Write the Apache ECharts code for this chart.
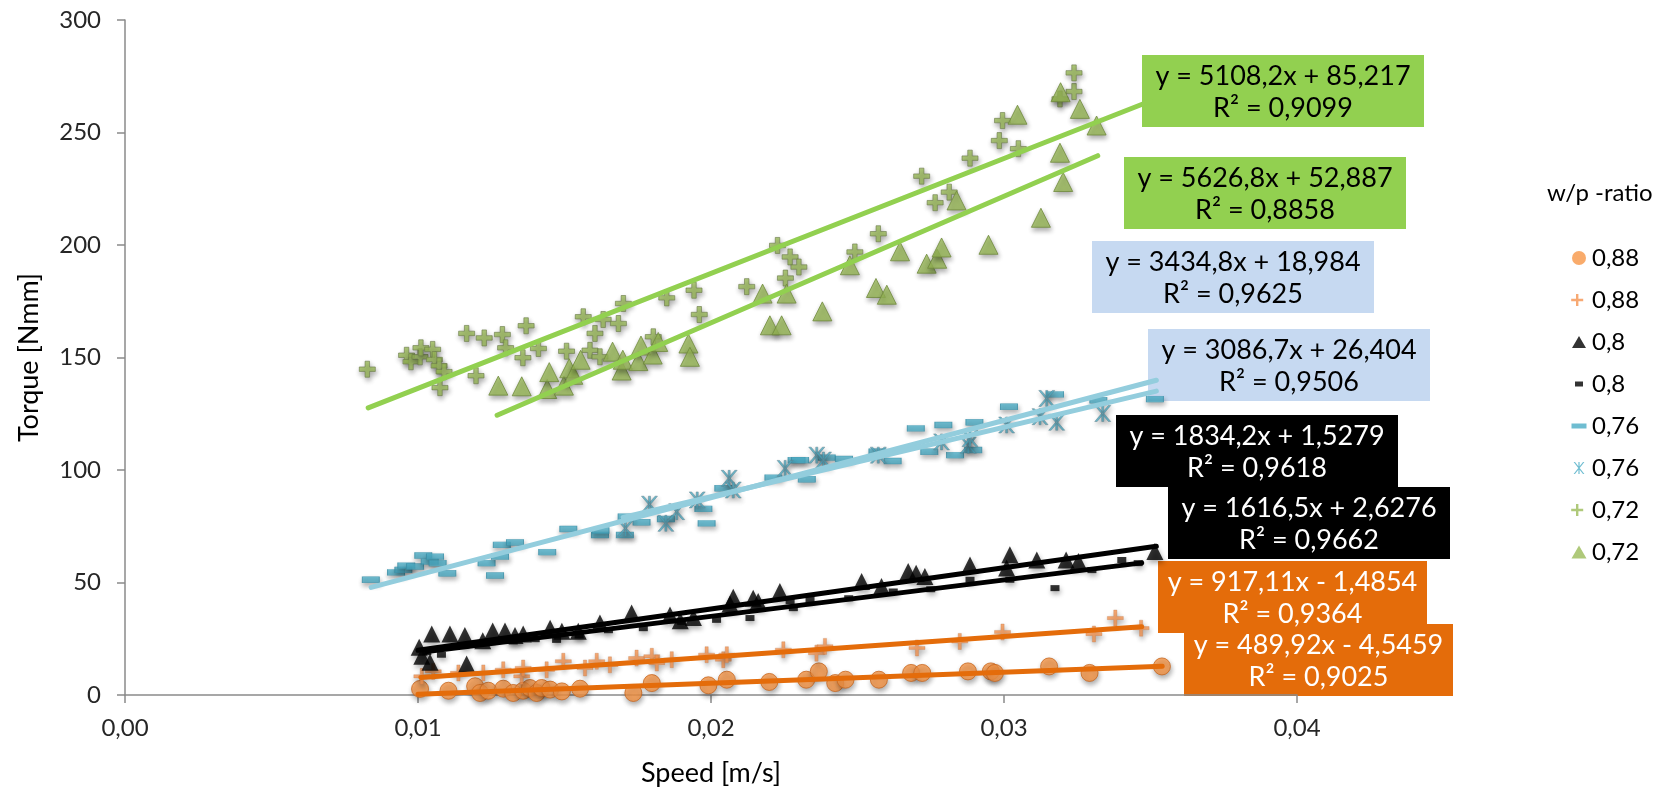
<!DOCTYPE html>
<html>
<head>
<meta charset="utf-8">
<title>Torque vs speed</title>
<script src="https://cdn.jsdelivr.net/npm/echarts@6/dist/echarts.min.js"></script>
<style>
  html, body { margin: 0; padding: 0; background: #ffffff; }
  #chart { width: 1667px; height: 792px; }
</style>
</head>
<body>
<div id="chart"></div>
<script>
// Measured torque [Nmm] against speed [m/s], one array per w/p ratio and marker type
const circle088 = [[0.01007,2.7],[0.01104,1.9],[0.01195,3.9],[0.01212,0.9],[0.01240,1.9],[0.01291,2.8],[0.01325,0.9],[0.01359,1.9],[0.01382,3.1],[0.01405,0.9],[0.01422,3.1],[0.01451,2.4],[0.01491,1.6],[0.01553,2.8],[0.01735,0.9],[0.01798,5.3],[0.01991,4.3],[0.02054,6.8],[0.02199,5.8],[0.02325,6.8],[0.02368,10.5],[0.02424,5.3],[0.02459,6.8],[0.02573,6.8],[0.02683,9.8],[0.02721,9.8],[0.02877,10.5],[0.02955,10.5],[0.02969,9.8],[0.03154,12.7],[0.03292,9.8],[0.03539,12.7]];
const plus088 = [[0.01013,8.3],[0.01052,10.5],[0.01138,9.8],[0.01223,9.8],[0.01291,11.2],[0.01354,8.3],[0.01359,12.0],[0.01439,11.2],[0.01496,15.0],[0.01570,12.0],[0.01610,15.0],[0.01655,13.4],[0.01746,16.4],[0.01798,17.2],[0.01815,14.2],[0.01866,15.7],[0.01985,17.9],[0.02042,15.7],[0.02054,17.9],[0.02247,20.1],[0.02360,18.6],[0.02389,21.6],[0.02703,20.9],[0.02849,23.8],[0.02995,28.0],[0.03307,27.1],[0.03380,34.2],[0.03468,29.7]];
const triangle080 = [[0.01004,21.2],[0.01013,17.2],[0.01041,14.6],[0.01047,27.1],[0.01109,27.1],[0.01160,26.5],[0.01166,13.8],[0.01221,24.1],[0.01255,28.5],[0.01297,28.5],[0.01331,26.5],[0.01359,27.1],[0.01451,29.7],[0.01491,28.3],[0.01547,28.3],[0.01621,32.0],[0.01729,36.4],[0.01860,35.6],[0.01895,33.0],[0.01940,34.5],[0.02065,40.5],[0.02076,43.4],[0.02144,43.0],[0.02161,41.6],[0.02235,46.0],[0.02514,50.4],[0.02582,48.2],[0.02673,54.9],[0.02700,54.1],[0.02730,52.7],[0.02884,57.8],[0.03009,56.4],[0.03020,62.3],[0.03112,60.0],[0.03212,60.0],[0.03254,59.3],[0.03515,63.8]];
const dash080 = [[0.01030,19.1],[0.01080,17.9],[0.01160,22.0],[0.01250,23.5],[0.01325,23.8],[0.01400,24.8],[0.01473,24.5],[0.01550,26.5],[0.01650,28.8],[0.01769,29.7],[0.01900,32.5],[0.02019,33.4],[0.02133,34.2],[0.02270,41.7],[0.02281,38.6],[0.02338,42.3],[0.02470,43.0],[0.02622,46.0],[0.02750,47.0],[0.02884,51.2],[0.03020,51.2],[0.03174,47.5],[0.03300,55.5],[0.03402,60.0],[0.03458,58.6]];
const dash076 = [[0.00839,51.2],[0.00925,54.5],[0.00950,55.6],[0.00960,57.5],[0.00990,57.1],[0.01018,62.0],[0.01040,59.3],[0.01058,61.5],[0.01067,58.6],[0.01100,54.1],[0.01234,58.6],[0.01263,53.1],[0.01280,61.5],[0.01286,66.7],[0.01331,67.8],[0.01441,63.5],[0.01513,73.8],[0.01621,71.1],[0.01623,73.1],[0.01706,71.1],[0.01712,79.3],[0.01763,76.8],[0.01846,78.2],[0.01974,82.7],[0.01985,76.3],[0.02042,91.9],[0.02213,96.6],[0.02292,104.4],[0.02304,104.4],[0.02327,95.9],[0.02395,105.5],[0.02454,104.9],[0.02568,108.1],[0.02620,104.0],[0.02699,118.5],[0.02745,108.1],[0.02793,120.0],[0.02833,106.6],[0.02895,108.9],[0.02899,121.2],[0.03017,128.1],[0.03174,133.6],[0.03322,131.0],[0.03515,131.5]];
const star076 = [[0.01708,74.1],[0.01790,84.8],[0.01846,76.3],[0.01883,81.5],[0.01953,86.7],[0.02062,96.3],[0.02076,91.1],[0.02253,100.7],[0.02361,106.6],[0.02384,104.4],[0.02571,106.6],[0.02787,112.5],[0.02878,111.0],[0.02884,114.0],[0.03009,120.0],[0.03123,123.7],[0.03146,131.8],[0.03180,121.2],[0.03337,125.1]];
const plus072 = [[0.00827,144.8],[0.00961,151.0],[0.00976,148.1],[0.01007,150.3],[0.01010,154.3],[0.01050,153.6],[0.01056,149.1],[0.01072,146.3],[0.01075,136.6],[0.01089,143.7],[0.01166,160.7],[0.01198,141.9],[0.01226,158.7],[0.01288,160.2],[0.01299,154.3],[0.01358,149.9],[0.01369,164.1],[0.01411,154.0],[0.01507,152.8],[0.01564,168.1],[0.01587,153.2],[0.01604,160.7],[0.01621,150.3],[0.01632,166.9],[0.01684,165.1],[0.01701,174.0],[0.01803,159.2],[0.01849,176.5],[0.01942,179.9],[0.01960,169.1],[0.02122,181.5],[0.02227,199.8],[0.02254,185.3],[0.02270,194.7],[0.02300,190.2],[0.02491,196.9],[0.02571,205.0],[0.02719,230.6],[0.02765,218.8],[0.02813,223.5],[0.02884,238.6],[0.02984,246.4],[0.02995,255.3],[0.03049,242.8],[0.03191,264.9],[0.03239,268.2],[0.03239,276.5]];
const triangle072 = [[0.01274,137.5],[0.01354,137.2],[0.01441,136.0],[0.01448,143.5],[0.01498,137.5],[0.01516,145.2],[0.01530,142.3],[0.01555,149.0],[0.01664,152.6],[0.01695,144.2],[0.01699,149.0],[0.01752,148.4],[0.01761,155.3],[0.01801,151.3],[0.01820,156.9],[0.01923,156.2],[0.01928,150.3],[0.02176,178.4],[0.02201,164.3],[0.02241,164.3],[0.02258,178.4],[0.02380,170.5],[0.02474,191.0],[0.02563,180.9],[0.02600,177.9],[0.02645,197.2],[0.02736,191.7],[0.02772,193.9],[0.02787,198.9],[0.02838,219.8],[0.02947,200.1],[0.03046,257.9],[0.03126,212.1],[0.03191,241.0],[0.03193,267.9],[0.03202,228.0],[0.03259,260.5],[0.03316,253.1]];

// Legend entries (w/p ratio), one per data set above
const ratioLabels = ['0,88', '0,88', '0,8', '0,8', '0,76', '0,76', '0,72', '0,72'];

// Linear trendlines y = slope * x + intercept, their R² and the speed range they span
const slopes     = [489.92, 917.11, 1834.2, 1616.5, 3434.8, 3086.7, 5108.2, 5626.8];
const intercepts = [-4.5459, -1.4854, 1.5279, 2.6276, 18.984, 26.404, 85.217, 52.887];
const rSquared   = [0.9025, 0.9364, 0.9618, 0.9662, 0.9625, 0.9506, 0.9099, 0.8858];
const trendFrom  = [0.0100, 0.0101, 0.0100, 0.0103, 0.0084, 0.0170, 0.0083, 0.0127];
const trendTo    = [0.0354, 0.0347, 0.0352, 0.0347, 0.0352, 0.0352, 0.0350, 0.0332];

const xTicks = [0, 0.01, 0.02, 0.03, 0.04];
const yTicks = [0, 50, 100, 150, 200, 250, 300];

const FONT = 'Lato, "Open Sans", sans-serif';
const dataSets = [circle088, plus088, triangle080, dash080, dash076, star076, plus072, triangle072];

const PLUS_THIN  = 'path://M4,0H6V4H10V6H6V10H4V6H0V4H4Z';
const PLUS_THICK = 'path://M3.6,0H6.4V3.6H10V6.4H6.4V10H3.6V6.4H0V3.6H3.6Z';
const STAR = 'path://M4.4,0H5.6V10H4.4Z M0.3,0H1.7L9.7,10H8.3Z M8.3,0H9.7L1.7,10H0.3Z';

const markerStyles = [
  { symbol: 'circle', size: 17, color: '#f79646', border: '#c8661e', bw: 1 },
  { symbol: PLUS_THIN, size: 16, color: '#f59450', border: '#c07a4a', bw: 0.4 },
  { symbol: 'triangle', size: 17, color: '#000000', border: '#000000', bw: 0 },
  { symbol: 'rect', size: [9, 6], color: '#000000', border: '#000000', bw: 0 },
  { symbol: 'rect', size: [17, 6], color: '#4bacc6', border: '#3a8ea6', bw: 0.6 },
  { symbol: STAR, size: 16, color: '#4bacc6', border: '#5f7f88', bw: 0.6 },
  { symbol: PLUS_THICK, size: 16, color: '#9bbb59', border: '#6d7d4b', bw: 0.8 },
  { symbol: 'triangle', size: 19, color: '#9bbb59', border: '#6f8a3c', bw: 1 }
];
const legendIcons = [
  'circle',
  'path://M5,1H7.4V5.8H12.2V8.2H7.4V13H5V8.2H0.2V5.8H5Z M0,0H0.01V0.01H0Z M16,14H15.99V13.99H16Z',
  'path://M8,1L15,13H1Z M0,0H0.01V0.01H0Z M16,14H15.99V13.99H16Z',
  'path://M4,4.5H12V9.5H4Z M0,0H0.01V0.01H0Z M16,14H15.99V13.99H16Z',
  'path://M0.5,4.5H15.5V9.5H0.5Z M0,0H0.01V0.01H0Z M16,14H15.99V13.99H16Z',
  'path://M7.4,1H8.6V13H7.4Z M2.6,1H4L13.4,13H12Z M12,1H13.4L4,13H2.6Z M0,0H0.01V0.01H0Z M16,14H15.99V13.99H16Z',
  'path://M5,1H7.4V5.8H12.2V8.2H7.4V13H5V8.2H0.2V5.8H5Z M0,0H0.01V0.01H0Z M16,14H15.99V13.99H16Z',
  'path://M8,0.5L15.5,13.5H0.5Z M0,0H0.01V0.01H0Z M16,14H15.99V13.99H16Z'
];
const trendColors = ['#e46c0a', '#e46c0a', '#000000', '#000000', '#93cddd', '#93cddd', '#92d050', '#92d050'];

const comma = v => String(v).replace('.', ',');
const seriesName = i => ratioLabels[i] + '#' + i;

const series = [];
dataSets.forEach((d, i) => {
  const m = markerStyles[i];
  series.push({
    name: seriesName(i),
    type: 'scatter',
    data: d,
    symbol: m.symbol,
    symbolSize: m.size,
    z: 2,
    itemStyle: {
      color: m.color,
      borderColor: m.border,
      borderWidth: m.bw,
      shadowColor: 'rgba(0,0,0,0.4)',
      shadowBlur: 5,
      shadowOffsetX: 1,
      shadowOffsetY: 3
    },
    emphasis: { disabled: true }
  });
});
// Trendlines drawn on top of the markers
dataSets.forEach((d, i) => {
  const f = x => slopes[i] * x + intercepts[i];
  series.push({
    name: 'trend' + i,
    type: 'line',
    data: [[trendFrom[i], f(trendFrom[i])], [trendTo[i], f(trendTo[i])]],
    showSymbol: false,
    symbol: 'none',
    silent: true,
    z: 3,
    lineStyle: { color: trendColors[i], width: 5, cap: 'round' },
    emphasis: { disabled: true }
  });
});

// Equation boxes: [left, top, width, fill, text colour] in the order of the data sets
const boxLayout = [
  [1184, 624, 269, '#e46c0a', '#ffffff'],
  [1158, 561, 269, '#e46c0a', '#ffffff'],
  [1116, 415, 282, '#000000', '#ffffff'],
  [1168, 487, 282, '#000000', '#ffffff'],
  [1092, 241, 282, '#c6d9f1', '#000000'],
  [1148, 329, 282, '#c6d9f1', '#000000'],
  [1142, 55, 282, '#92d050', '#000000'],
  [1124, 157, 282, '#92d050', '#000000']
];
const graphics = boxLayout.map((b, i) => {
  const sign = intercepts[i] < 0 ? ' - ' : ' + ';
  const eq = 'y = ' + comma(slopes[i]) + 'x' + sign + comma(Math.abs(intercepts[i]));
  const r2 = 'R² = ' + comma(rSquared[i]);
  return {
    type: 'group',
    left: b[0],
    top: b[1],
    z: 10,
    children: [
      { type: 'rect', shape: { x: 0, y: 0, width: b[2], height: 72 }, style: { fill: b[3] } },
      { type: 'text', x: b[2] / 2, y: 21, style: { text: eq, fill: b[4], fontSize: 27, fontFamily: FONT, align: 'center', textAlign: 'center', verticalAlign: 'middle', textVerticalAlign: 'middle' } },
      { type: 'text', x: b[2] / 2, y: 53, style: { text: r2, fill: b[4], fontSize: 27, fontFamily: FONT, align: 'center', textAlign: 'center', verticalAlign: 'middle', textVerticalAlign: 'middle' } }
    ]
  };
});
graphics.push({
  type: 'text', left: 1547, top: 181, z: 10,
  style: { text: 'w/p -ratio', fill: '#000000', fontSize: 24, fontFamily: FONT }
});

const chart = echarts.init(document.getElementById('chart'), null, { renderer: 'canvas' });
chart.setOption({
  backgroundColor: '#ffffff',
  animation: false,
  textStyle: { fontFamily: FONT },
  grid: { left: 125, right: 370, top: 20, bottom: 95, containLabel: false },
  xAxis: {
    type: 'value',
    min: xTicks[0],
    max: xTicks[xTicks.length - 1],
    interval: xTicks[1] - xTicks[0],
    name: 'Speed [m/s]',
    nameLocation: 'middle',
    nameGap: 65,
    nameTextStyle: { fontSize: 27, color: '#000000', fontFamily: FONT },
    splitLine: { show: false },
    axisLine: { show: true, onZero: false, lineStyle: { color: '#8a8a8a', width: 1.5 } },
    axisTick: { show: true, length: 8, lineStyle: { color: '#8a8a8a', width: 1.5 } },
    axisLabel: { fontSize: 24, color: '#262626', margin: 21, fontFamily: FONT, formatter: v => v.toFixed(2).replace('.', ',') }
  },
  yAxis: {
    type: 'value',
    min: yTicks[0],
    max: yTicks[yTicks.length - 1],
    interval: yTicks[1] - yTicks[0],
    name: 'Torque [Nmm]',
    nameLocation: 'middle',
    nameGap: 82,
    nameTextStyle: { fontSize: 27, color: '#000000', fontFamily: FONT },
    splitLine: { show: false },
    axisLine: { show: true, lineStyle: { color: '#8a8a8a', width: 1.5 } },
    axisTick: { show: true, length: 8, lineStyle: { color: '#8a8a8a', width: 1.5 } },
    axisLabel: { fontSize: 24, color: '#262626', margin: 24, fontFamily: FONT }
  },
  legend: {
    orient: 'vertical',
    left: 1566,
    top: 240,
    itemWidth: 16,
    itemHeight: 14,
    itemGap: 16,
    selectedMode: false,
    symbolKeepAspect: true,
    itemStyle: { shadowBlur: 0, shadowOffsetX: 0, shadowOffsetY: 0, shadowColor: 'rgba(0,0,0,0)', borderWidth: 0 },
    textStyle: { fontSize: 24, color: '#000000', fontFamily: FONT, lineHeight: 26 },
    formatter: name => name.split('#')[0],
    data: dataSets.map((d, i) => ({ name: seriesName(i), icon: legendIcons[i] }))
  },
  graphic: graphics,
  series: series
});
</script>
</body>
</html>
